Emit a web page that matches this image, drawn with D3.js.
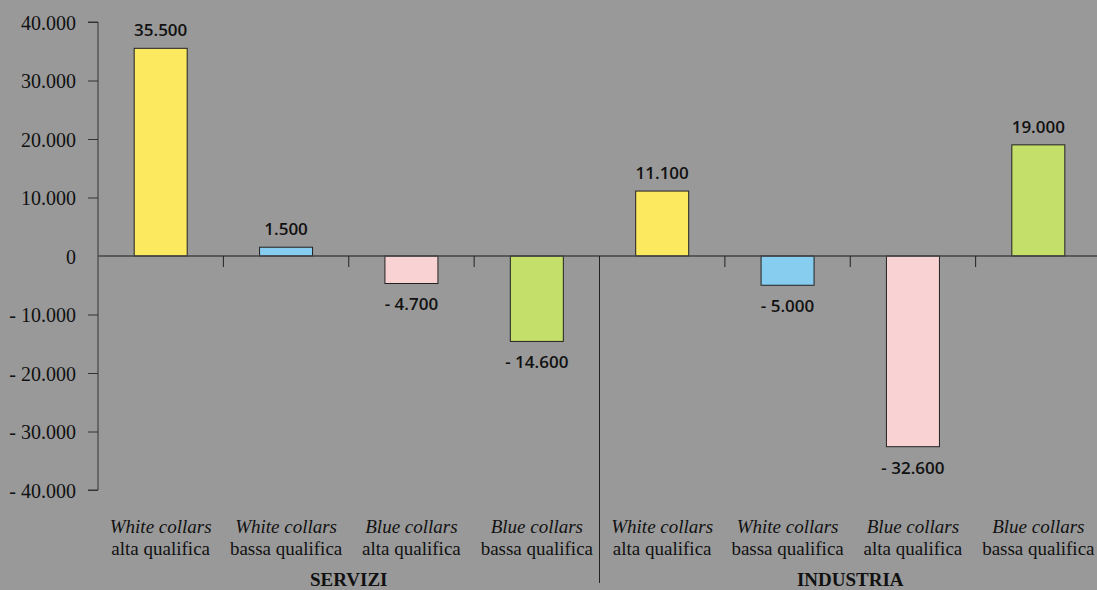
<!DOCTYPE html>
<html>
<head>
<meta charset="utf-8">
<script src="https://cdn.jsdelivr.net/npm/d3@7"></script>
<style>
  html, body { margin: 0; padding: 0; background: #999999; }
  svg { display: block; }
</style>
</head>
<body>
<div id="chart"></div>
<script>
var groups = ["SERVIZI", "INDUSTRIA"];
var collarLabels = ["White collars", "White collars", "Blue collars", "Blue collars"];
var qualificaLabels = ["alta qualifica", "bassa qualifica", "alta qualifica", "bassa qualifica"];
var serviziValues = [35500, 1500, -4700, -14600];
var industriaValues = [11100, -5000, -32600, 19000];
var barColours = ["#fce960", "#87cdef", "#f9d3d3", "#c5df6b"];
var yTicks = [40000, 30000, 20000, 10000, 0, -10000, -20000, -30000, -40000];

var width = 1097;
var height = 590;

var rows = [];
[serviziValues, industriaValues].forEach(function (vals, g) {
    vals.forEach(function (v, i) {
        rows.push({ key: g + "-" + i, group: g, idx: i, value: v });
    });
});

function fmt(v) {
    var s = d3.format(",")(Math.abs(v)).replace(/,/g, ".");
    return v < 0 ? "- " + s : s;
}

var svg = d3.select("#chart")
    .append("svg")
    .attr("width", width)
    .attr("height", height);

var x = d3.scaleBand()
    .domain(rows.map(d => d.key))
    .range([98, 1101])
    .paddingInner(0)
    .paddingOuter(0);

var y = d3.scaleLinear()
    .domain([-40000, 40000])
    .range([490, 22]);

var barWidth = 53;

// y axis
var yAxis = d3.axisLeft(y)
    .tickValues(yTicks)
    .tickSize(10)
    .tickFormat(fmt);
var yg = svg.append("g")
    .attr("transform", "translate(98,0)")
    .call(yAxis);
yg.select(".domain").attr("stroke", "#333").attr("d", "M-10," + y(40000) + "H0V" + y(-40000) + "H-10");
yg.selectAll(".tick line").attr("stroke", "#333");
yg.selectAll(".tick").filter(d => d === 0).select("line").remove();
yg.selectAll(".tick text")
    .attr("x", -22)
    .attr("dy", "0.35em")
    .attr("fill", "#111")
    .style("font-family", "'Liberation Serif', serif")
    .style("font-size", "20px");

// bars
svg.append("g")
    .selectAll("rect")
    .data(rows)
    .enter()
    .append("rect")
    .attr("x", d => x(d.key) + (x.bandwidth() - barWidth) / 2)
    .attr("y", d => y(Math.max(0, d.value)))
    .attr("width", barWidth)
    .attr("height", d => Math.abs(y(d.value) - y(0)))
    .attr("fill", d => barColours[d.idx])
    .attr("stroke", "#222")
    .attr("stroke-width", 1);

// zero line
svg.append("line")
    .attr("x1", 98).attr("x2", width)
    .attr("y1", y(0)).attr("y2", y(0))
    .attr("stroke", "#444")
    .attr("stroke-width", 1.5);

// category ticks below zero line
svg.append("g")
    .selectAll("line")
    .data(rows.filter(d => d.idx > 0))
    .enter()
    .append("line")
    .attr("x1", d => x(d.key)).attr("x2", d => x(d.key))
    .attr("y1", y(0)).attr("y2", y(0) + 11)
    .attr("stroke", "#222");

// group divider
svg.append("line")
    .attr("x1", x("1-0")).attr("x2", x("1-0"))
    .attr("y1", y(0)).attr("y2", 583)
    .attr("stroke", "#222");

// value labels
svg.append("g")
    .selectAll("text")
    .data(rows)
    .enter()
    .append("text")
    .attr("x", d => x(d.key) + x.bandwidth() / 2)
    .attr("y", d => d.value >= 0 ? y(d.value) - 12 : y(d.value) + 27)
    .attr("text-anchor", "middle")
    .attr("fill", "#111")
    .style("font-family", "'Open Sans', sans-serif")
    .style("font-size", "17px")
    .style("font-weight", 600)
    .text(d => fmt(d.value));

// category labels
var cat = svg.append("g")
    .selectAll("text")
    .data(rows)
    .enter()
    .append("text")
    .attr("text-anchor", "middle")
    .attr("fill", "#111")
    .style("font-family", "'Liberation Serif', serif")
    .style("font-size", "19px");
cat.append("tspan")
    .attr("x", d => x(d.key) + x.bandwidth() / 2)
    .attr("y", 533)
    .style("font-style", "italic")
    .text(d => collarLabels[d.idx]);
cat.append("tspan")
    .attr("x", d => x(d.key) + x.bandwidth() / 2)
    .attr("y", 555)
    .text(d => qualificaLabels[d.idx]);

// group labels
svg.append("g")
    .selectAll("text")
    .data(groups)
    .enter()
    .append("text")
    .attr("x", (d, g) => (x(g + "-1") + x(g + "-2") + x.bandwidth()) / 2)
    .attr("y", 586)
    .attr("text-anchor", "middle")
    .attr("fill", "#111")
    .style("font-family", "'Liberation Serif', serif")
    .style("font-size", "19px")
    .style("font-weight", "bold")
    .text(d => d);
</script>
</body>
</html>
